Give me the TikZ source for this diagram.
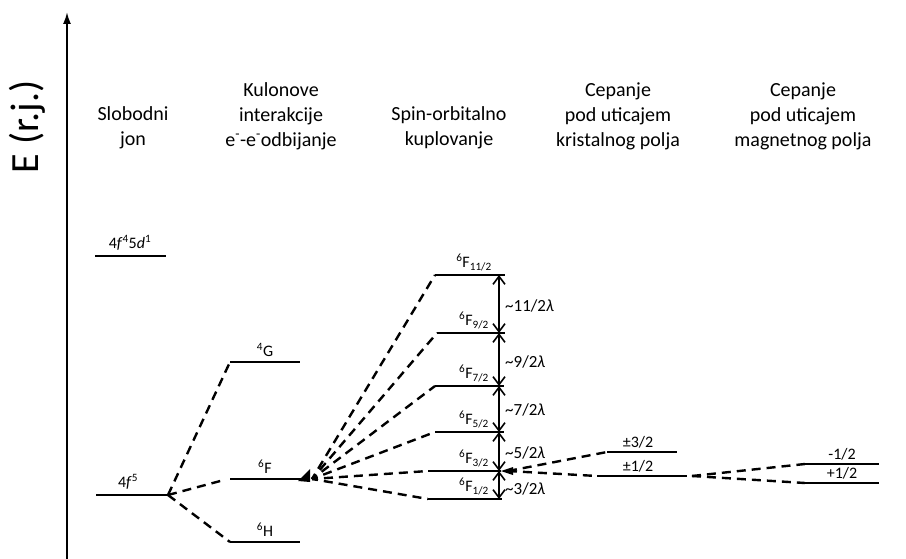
\documentclass[tikz,border=0pt]{standalone}
\usepackage{fontspec}
\setmainfont{Carlito}
\usetikzlibrary{arrows.meta}
\begin{document}
\begin{tikzpicture}[x=1pt,y=-1pt,
  lvl/.style={line width=2.4pt},
  dsh/.style={line width=2.4pt, dash pattern=on 9pt off 6pt},
  head/.style={font=\fontsize{20}{25}\selectfont, align=center, inner sep=0pt},
  lab/.style={font=\fontsize{16}{18}\selectfont, inner sep=1pt, anchor=south},
  slab/.style={font=\fontsize{17}{19}\selectfont, inner sep=1pt, anchor=west},
  gaparrow/.style={line width=1.5pt, {Straight Barb[length=8pt,width=12pt,line width=1.6pt]}-{Straight Barb[length=8pt,width=12pt,line width=1.6pt]}}]
\useasboundingbox (0,0) rectangle (906,559);

% energy axis
\coordinate (axB) at (67,559);
\coordinate (axT) at (67,12);
\draw[line width=1.9pt, -{Latex[length=12pt,width=8pt]}] (axB) -- (axT);
\node[rotate=90, font=\fontsize{40}{44}\selectfont, inner sep=0pt] (elab) at (27,127) {E (r.j.)};

% headings
\node[head] (h1) at (133,128) {Slobodni\\jon};
\node[head] (h2) at (281,116) {Kulonove\\interakcije\\e\textsuperscript{-}-e\textsuperscript{-}odbijanje};
\node[head] (h3) at (449,128) {Spin-orbitalno\\kuplovanje};
\node[head] (h4) at (618,116) {Cepanje\\pod uticajem\\kristalnog polja};
\node[head] (h5) at (803,116) {Cepanje\\pod uticajem\\magnetnog polja};

% free ion
\coordinate (d1L) at (95,256);  \coordinate (d1R) at (166,256);
\coordinate (f5L) at (96,495);  \coordinate (f5R) at (168,495);
\draw[lvl] (d1L) -- (d1R);
\draw[lvl] (f5L) -- (f5R);
\node[lab] (ld1) at (130,252) {4\textit{f}\textsuperscript{4}5\textit{d}\textsuperscript{1}};
\node[lab] (lf5) at (128,491) {4\textit{f}\textsuperscript{5}};

% Coulomb terms
\coordinate (gL) at (230,362); \coordinate (gR) at (300,362);
\coordinate (fL) at (230,479); \coordinate (fR) at (304,479);
\coordinate (fD) at (224,480);
\coordinate (hL) at (230,542); \coordinate (hR) at (300,542);
\draw[lvl] (gL) -- (gR);
\draw[lvl] (fL) -- (fR);
\draw[lvl] (hL) -- (hR);
\node[lab] (lg) at (265,358) {\textsuperscript{4}G};
\node[lab] (lf) at (265,475) {\textsuperscript{6}F};
\node[lab] (lh) at (265,538) {\textsuperscript{6}H};
\draw[dsh] (f5R) -- (gL);
\draw[dsh] (f5R) -- (fD);
\draw[dsh] (f5R) -- (hL);
\fill (298,481) -- (310,469) -- (310,482) -- cycle;

% spin-orbit levels
\coordinate (fan) at (312,479);
\coordinate (s1L) at (435,275); \coordinate (s1R) at (505,275);
\coordinate (s2L) at (437,333); \coordinate (s2R) at (505,333);
\coordinate (s3L) at (435,386); \coordinate (s3R) at (504,386);
\coordinate (s4L) at (435,432); \coordinate (s4R) at (504,432);
\coordinate (s5L) at (428,471); \coordinate (s5R) at (501,471);
\coordinate (s6L) at (428,499); \coordinate (s6R) at (502,499);
\foreach \i in {1,...,6} {
  \draw[lvl] (s\i L) -- (s\i R);
  \draw[dsh, dash phase=3pt] (fan) -- (s\i L);
}
\node[lab] (ls1) at (474,272) {\textsuperscript{6}F\textsubscript{11/2}};
\node[lab] (ls2) at (474,330) {\textsuperscript{6}F\textsubscript{9/2}};
\node[lab] (ls3) at (474,383) {\textsuperscript{6}F\textsubscript{7/2}};
\node[lab] (ls4) at (474,429) {\textsuperscript{6}F\textsubscript{5/2}};
\node[lab] (ls5) at (474,468) {\textsuperscript{6}F\textsubscript{3/2}};
\node[lab] (ls6) at (474,496) {\textsuperscript{6}F\textsubscript{1/2}};

% splitting arrows
\coordinate (a1) at (499,275);
\coordinate (a2) at (499,333);
\coordinate (a3) at (499,386);
\coordinate (a4) at (499,432);
\coordinate (a5) at (499,471);
\coordinate (a6) at (499,499);
\draw[gaparrow] (a1) -- (a2);
\draw[gaparrow] (a2) -- (a3);
\draw[gaparrow] (a3) -- (a4);
\draw[gaparrow] (a4) -- (a5);
\draw[gaparrow] (a5) -- (a6);
\node[slab] (g1) at (504,306) {\textasciitilde 11/2\textit{λ}};
\node[slab] (g2) at (504,362) {\textasciitilde 9/2\textit{λ}};
\node[slab] (g3) at (504,410) {\textasciitilde 7/2\textit{λ}};
\node[slab] (g4) at (504,453) {\textasciitilde 5/2\textit{λ}};
\node[slab] (g5) at (504,489) {\textasciitilde 3/2\textit{λ}};

% crystal field
\coordinate (cf) at (508,471);
\fill (501,471) -- (513,467) -- (513,475) -- cycle;
\coordinate (c1L) at (607,452); \coordinate (c1R) at (677,452);
\coordinate (c2L) at (597,476); \coordinate (c2R) at (687,476);
\draw[lvl] (c1L) -- (c1R);
\draw[lvl] (c2L) -- (c2R);
\draw[dsh] (cf) -- (c1L);
\draw[dsh] (cf) -- (c2L);
\node[lab] (lc1) at (638,449) {±3/2};
\node[lab] (lc2) at (638,473) {±1/2};

% magnetic field
\coordinate (mf) at (692,476);
\coordinate (m1L) at (805,464); \coordinate (m1R) at (879,464);
\coordinate (m2L) at (805,483); \coordinate (m2R) at (879,483);
\draw[lvl] (m1L) -- (m1R);
\draw[lvl] (m2L) -- (m2R);
\draw[dsh] (mf) -- (m1L);
\draw[dsh] (mf) -- (m2L);
\node[lab] (lm1) at (842,461) {-1/2};
\node[lab] (lm2) at (842,480) {+1/2};
\end{tikzpicture}
\end{document}
